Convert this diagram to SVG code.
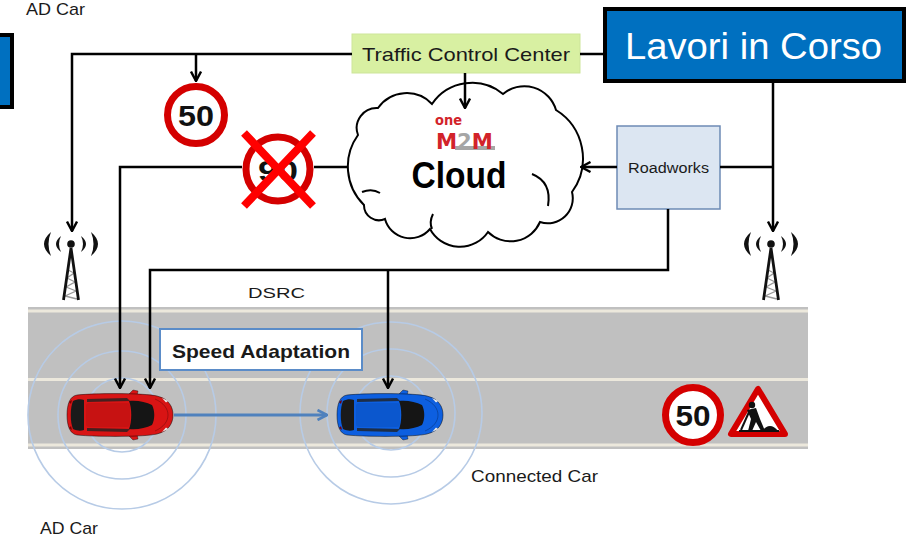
<svg xmlns="http://www.w3.org/2000/svg" width="908" height="538" viewBox="0 0 908 538">
  <defs>
    <style>
      text { font-family: "Liberation Sans", "Noto Sans", sans-serif; fill: #1a1a1a; }
      .ln { fill: none; stroke: #000; stroke-width: 2.5; }
      .arr { marker-end: url(#arr); }
      .wave { fill: none; stroke: #b7cbe6; stroke-width: 1.6; }
      .ring { fill: #fff; stroke: #d40000; stroke-width: 7; }
      .num { font-weight: bold; font-size: 30px; text-anchor: middle; fill: #111; }
      .stripe { fill: #ece8dc; }
      .logo { font-family: "DejaVu Sans", "Liberation Sans", sans-serif; font-weight: bold; fill: #d2232a; }
    </style>
    <marker id="arr" viewBox="0 0 12 12" refX="11" refY="6" markerWidth="12" markerHeight="12" markerUnits="userSpaceOnUse" orient="auto">
      <path d="M1.5,1 L11,6 L1.5,11" fill="none" stroke="#000" stroke-width="2.4"/>
    </marker>
    <marker id="arrB" viewBox="0 0 12 12" refX="11" refY="6" markerWidth="12" markerHeight="12" markerUnits="userSpaceOnUse" orient="auto">
      <path d="M1.5,1 L11,6 L1.5,11" fill="none" stroke="#4f81bd" stroke-width="2.6"/>
    </marker>
    <!-- top view of a hatchback, body colour taken from the color property -->
    <g id="car">
      <path d="M60,4 L66,-2 L71,-1 L70,4 Z" fill="currentColor" stroke="#000" stroke-opacity=".35"/>
      <path d="M60,42 L66,48 L71,47 L70,42 Z" fill="currentColor" stroke="#000" stroke-opacity=".35"/>
      <path d="M10,3 C30,1 78,1 90,4 C102,7 106,15 106,23 C106,31 102,39 90,42 C78,45 30,45 10,43 C3,42 0,34 0,23 C0,12 3,4 10,3 Z" fill="currentColor" stroke="#000" stroke-opacity=".45"/>
      <path d="M6,9 C10,7 14,7 17,8 L17,38 C14,39 10,39 6,37 C3,30 3,16 6,9 Z" fill="#1a1a1a"/>
      <path d="M20,7 L60,6 L63,9 L20,10 Z" fill="#222" opacity=".8"/>
      <path d="M20,39 L60,40 L63,37 L20,36 Z" fill="#222" opacity=".8"/>
      <rect x="19" y="11" width="44" height="24" rx="3" fill="#000" opacity=".08"/>
      <path d="M62,9 C70,8 79,10 85,13 C88,19 88,27 85,33 C79,36 70,38 62,37 C65,30 65,16 62,9 Z" fill="#151515"/>
      <path d="M88,7 C97,11 101,17 101,23 C101,29 97,35 88,39" fill="none" stroke="#000" stroke-opacity=".25"/>
      <path d="M95,6 L101,9 L99,10.5 Z" fill="#eee"/>
      <path d="M95,40 L101,37 L99,35.5 Z" fill="#eee"/>
      <path d="M2,10 L5,8 L4,12 Z" fill="#700"/>
      <path d="M2,36 L5,38 L4,34 Z" fill="#700"/>
    </g>
    <!-- radio mast with waves, origin at the mast tip -->
    <g id="mast">
      <circle cx="0" cy="0" r="3.8" fill="#111"/>
      <path d="M-20,-12 Q-34,0 -20,12 Q-25,0 -20,-12 Z" fill="#111"/>
      <path d="M-10,-8 Q-20,0 -10,8 Q-14,0 -10,-8 Z" fill="#111"/>
      <path d="M20,-12 Q34,0 20,12 Q25,0 20,-12 Z" fill="#111"/>
      <path d="M10,-8 Q20,0 10,8 Q14,0 10,-8 Z" fill="#111"/>
      <path d="M-3,26 L3,29 L-4,34 L4,38 L-5,43 L5,47 L-6,52 L6,55" fill="none" stroke="#999" stroke-width="1.3"/>
      <path d="M0,4 L-7.5,56 M0,4 L7.5,56" fill="none" stroke="#111" stroke-width="2.8"/>
    </g>
  </defs>

  <rect width="908" height="538" fill="#fff"/>

  <!-- road -->
  <g id="road">
    <rect x="28" y="307" width="780" height="142" fill="#c0c0c0"/>
    <rect class="stripe" x="28" y="309.5" width="780" height="3"/>
    <rect class="stripe" x="28" y="378" width="780" height="3"/>
    <rect class="stripe" x="28" y="443.5" width="780" height="3"/>
  </g>

  <!-- DSRC range rings -->
  <g id="rings">
    <circle class="wave" cx="122" cy="415" r="37"/>
    <circle class="wave" cx="122" cy="415" r="64"/>
    <circle class="wave" cx="122" cy="415" r="94"/>
    <circle class="wave" cx="391" cy="413" r="37"/>
    <circle class="wave" cx="391" cy="413" r="64"/>
    <circle class="wave" cx="391" cy="413" r="91"/>
  </g>

  <g id="ad-car">
    <use href="#car" x="67" y="392" color="#d81414"/>
  </g>
  <g id="connected-car">
    <use href="#car" x="337" y="392" color="#0d5fe0"/>
  </g>

  <g id="cloud">
    <path d="M364,205 A54,54 0 0 1 358,135 A20,20 0 0 1 378,108 A35,35 0 0 1 432,104 A48.5,48.5 0 0 1 503,94 A33,33 0 0 1 556,110 A57,57 0 0 1 572,192 A25,25 0 0 1 540,222 A32,32 0 0 1 488,232 A34,34 0 0 1 430,229 A26,26 0 0 1 385,219 A15,15 0 0 1 364,205 Z" fill="#fff" stroke="#000" stroke-width="2"/>
    <path d="M532,174 Q552,182 548,206" fill="none" stroke="#000" stroke-width="2"/>
    <path d="M432,229 Q429,222 433,214" fill="none" stroke="#000" stroke-width="2"/>
    <path d="M362,192 Q372,188 380,193" fill="none" stroke="#000" stroke-width="2"/>
    <text class="logo" x="435" y="125" font-size="14" textLength="27" lengthAdjust="spacingAndGlyphs">one</text>
    <rect x="455" y="146" width="40" height="4" fill="#a6a6a6"/>
    <text class="logo" x="436" y="149" font-size="21" textLength="57" lengthAdjust="spacingAndGlyphs">M<tspan style="fill:#a6a6a6">2</tspan>M</text>
    <text x="459" y="188" font-size="36" font-weight="bold" text-anchor="middle" textLength="95" lengthAdjust="spacingAndGlyphs" style="fill:#000">Cloud</text>
  </g>

  <g id="traffic-control-center">
    <rect x="352" y="34" width="228" height="39" fill="#d8f0a2" stroke="#cde59a"/>
    <text x="362" y="61" font-size="19" textLength="208" lengthAdjust="spacingAndGlyphs">Traffic Control Center</text>
  </g>

  <g id="lavori">
    <rect x="605" y="9" width="299" height="72" fill="#0070c0" stroke="#000" stroke-width="4"/>
    <text x="625" y="59" font-size="37" textLength="257" lengthAdjust="spacingAndGlyphs" style="fill:#fff">Lavori in Corso</text>
  </g>

  <g id="left-box">
    <rect x="-10" y="35" width="22" height="72" fill="#0070c0" stroke="#000" stroke-width="4"/>
  </g>

  <g id="roadworks">
    <rect x="617" y="126" width="103" height="83" fill="#dce6f2" stroke="#6d8bb5" stroke-width="1.5"/>
    <text x="668.5" y="173" font-size="14" text-anchor="middle" textLength="81" lengthAdjust="spacingAndGlyphs">Roadworks</text>
  </g>

  <g id="speed-adaptation">
    <rect x="160" y="329" width="202" height="41" fill="#fff" stroke="#5b8cc8" stroke-width="2"/>
    <text x="172" y="358" font-size="19" font-weight="bold" textLength="178" lengthAdjust="spacingAndGlyphs">Speed Adaptation</text>
  </g>

  <g id="connectors">
    <path class="ln arr" d="M352,54 H72 V231"/>
    <path class="ln arr" d="M196,54 V81"/>
    <path class="ln" d="M580,54 H605"/>
    <path class="ln arr" d="M465,73 V108"/>
    <path class="ln arr" d="M773,82 V231"/>
    <path class="ln" d="M720,167 H773"/>
    <path class="ln arr" d="M617,167 H581"/>
    <path class="ln" d="M347,167 H314"/>
    <path class="ln arr" d="M242,167 H120 V388"/>
    <path class="ln arr" d="M668,209 V270 H150 V388"/>
    <path class="ln arr" d="M388,270 V388"/>
    <path d="M174,415 H327" fill="none" stroke="#4f81bd" stroke-width="3" marker-end="url(#arrB)"/>
  </g>

  <g id="antenna-left">
    <use href="#mast" x="71" y="244"/>
  </g>
  <g id="antenna-right">
    <use href="#mast" x="771" y="244"/>
  </g>

  <g id="sign-50-top">
    <circle class="ring" cx="196" cy="115" r="28.5"/>
    <text class="num" x="196" y="126" textLength="36" lengthAdjust="spacingAndGlyphs">50</text>
  </g>

  <g id="sign-90-cancelled">
    <circle class="ring" cx="278" cy="169" r="32"/>
    <text class="num" x="278" y="181" font-size="32" textLength="40" lengthAdjust="spacingAndGlyphs">90</text>
    <path d="M244,133 L313,206 M313,133 L244,206" stroke="#ff0000" stroke-width="8"/>
  </g>

  <g id="sign-50-road">
    <circle class="ring" cx="693" cy="415" r="27.5"/>
    <text class="num" x="693" y="426" font-size="29" textLength="35" lengthAdjust="spacingAndGlyphs">50</text>
  </g>

  <g id="sign-roadworks">
    <polygon points="758,389 731,434 785,434" fill="#fff" stroke="#d40000" stroke-width="6" stroke-linejoin="round"/>
    <circle cx="752" cy="405" r="3.2" fill="#111"/>
    <path d="M747,410 L756,408 L760,419 L765,431 L761,431 L756,422 L752,431 L748,431 L751,419 Z" fill="#111"/>
    <path d="M749,412 L741,430" stroke="#111" stroke-width="2"/>
    <path d="M762,431 Q770,421 778,431 Z" fill="#111"/>
    <rect x="739" y="430" width="40" height="2" fill="#111"/>
  </g>

  <g id="labels">
    <text x="26" y="15" font-size="17" textLength="59" lengthAdjust="spacingAndGlyphs">AD Car</text>
    <text x="248" y="298" font-size="15" textLength="57" lengthAdjust="spacingAndGlyphs">DSRC</text>
    <text x="471" y="482" font-size="17" textLength="127" lengthAdjust="spacingAndGlyphs">Connected Car</text>
    <text x="40" y="534" font-size="17" textLength="58" lengthAdjust="spacingAndGlyphs">AD Car</text>
  </g>
</svg>
